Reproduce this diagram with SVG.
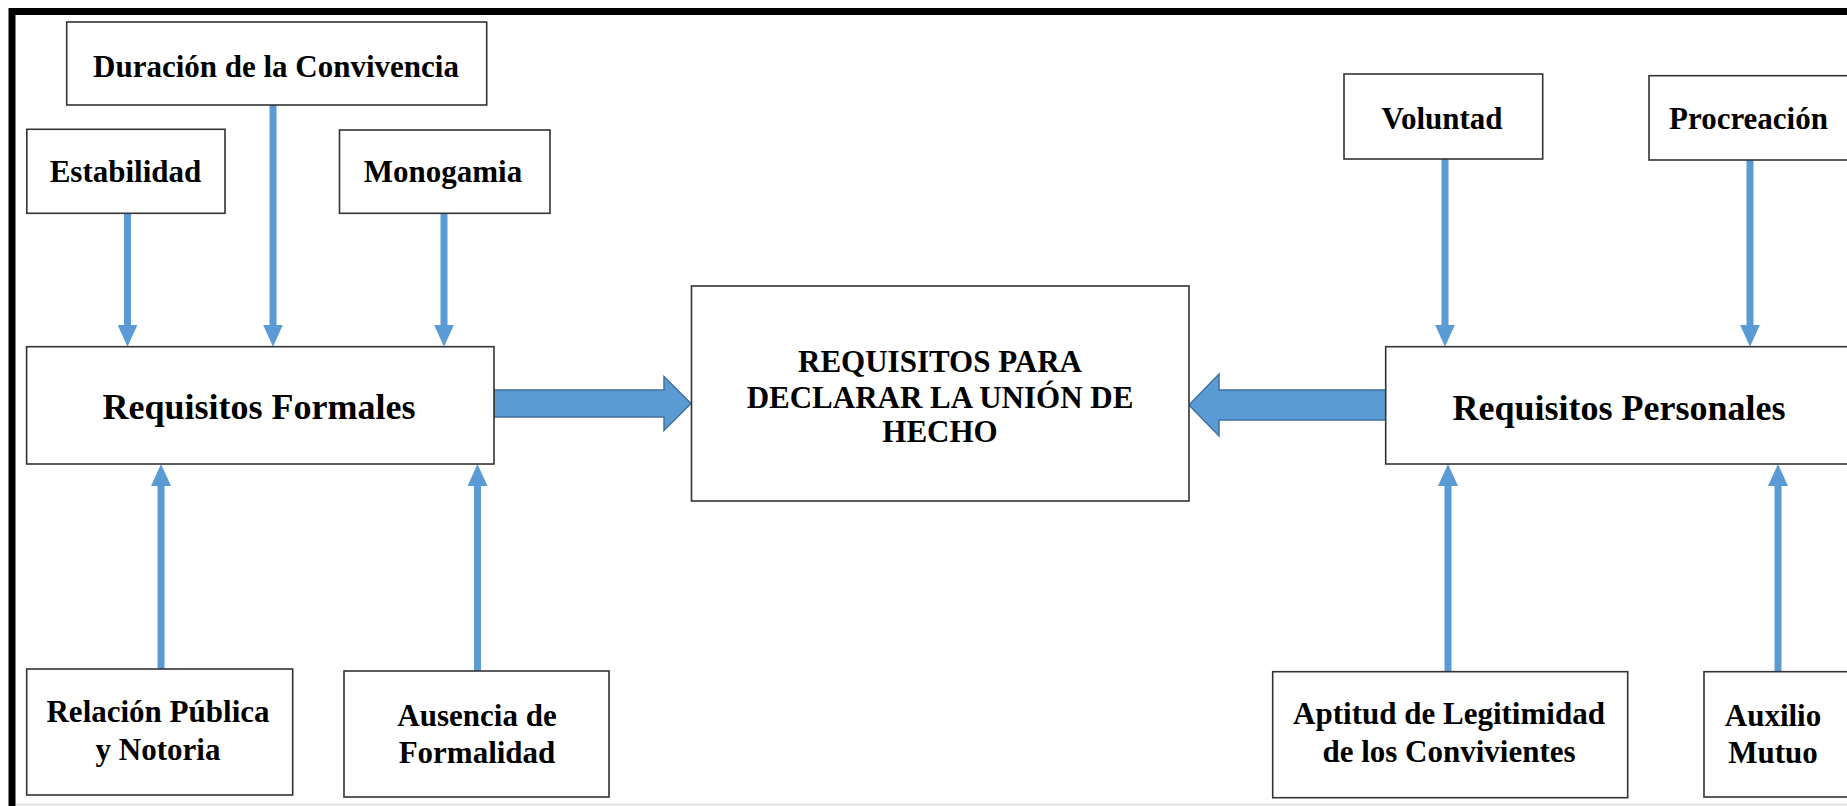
<svg xmlns="http://www.w3.org/2000/svg" width="1847" height="806" viewBox="0 0 1847 806">
<style>
.box{fill:#fff;stroke:#333;stroke-width:1.6}
.t{font-family:"Liberation Serif","Times New Roman",serif;font-weight:bold;fill:#000;text-anchor:middle}
.s{font-size:31px}
.b{font-size:36px}
.c{font-size:31px}
.ln{stroke:#5B9BD5;stroke-width:7;fill:none}
.blk{fill:#5B9BD5;stroke:#41719C;stroke-width:1.5}
</style>
<defs>
<marker id="ah" viewBox="0 -10 22 20" refX="1" refY="0" markerWidth="22" markerHeight="20" markerUnits="userSpaceOnUse" orient="auto">
<path d="M0,-10 L22,0 L0,10 z" fill="#5B9BD5"/>
</marker>
</defs>
<rect width="1847" height="806" fill="#fff"/>
<line x1="15" y1="804.5" x2="1847" y2="804.5" stroke="#e2e2e2" stroke-width="2"/>
<path d="M12,806 L12,11.5 L1847,11.5" fill="none" stroke="#000" stroke-width="7"/>

<g id="connectors">
<line class="ln" x1="127.5" y1="213" x2="127.5" y2="325.7" marker-end="url(#ah)"/>
<line class="ln" x1="273" y1="105" x2="273" y2="325.7" marker-end="url(#ah)"/>
<line class="ln" x1="444" y1="213" x2="444" y2="325.7" marker-end="url(#ah)"/>
<line class="ln" x1="1445" y1="159" x2="1445" y2="325.7" marker-end="url(#ah)"/>
<line class="ln" x1="1750" y1="160" x2="1750" y2="325.7" marker-end="url(#ah)"/>
<line class="ln" x1="161" y1="669" x2="161" y2="485" marker-end="url(#ah)"/>
<line class="ln" x1="477.5" y1="671" x2="477.5" y2="485" marker-end="url(#ah)"/>
<line class="ln" x1="1448" y1="671.7" x2="1448" y2="485" marker-end="url(#ah)"/>
<line class="ln" x1="1778" y1="671.7" x2="1778" y2="485" marker-end="url(#ah)"/>
<path class="blk" d="M494,390 L664,390 L664,376.5 L691,403.5 L664,430.5 L664,417 L494,417 z"/>
<path class="blk" d="M1386,390 L1219,390 L1219,374 L1189,405 L1219,436 L1219,420 L1386,420 z"/>
</g>

<g id="duracion"><rect class="box" x="66.7" y="22" width="420" height="83"/><text class="t s" x="276" y="77">Duración de la Convivencia</text></g>
<g id="estabilidad"><rect class="box" x="26.8" y="129.3" width="198.2" height="84"/><text class="t s" x="125.5" y="182">Estabilidad</text></g>
<g id="monogamia"><rect class="box" x="339.5" y="130" width="210.5" height="83.3"/><text class="t s" x="443" y="182">Monogamia</text></g>
<g id="formales"><rect class="box" x="26.6" y="346.7" width="467.4" height="117.3"/><text class="t b" x="259" y="419">Requisitos Formales</text></g>
<g id="central"><rect class="box" x="691.5" y="286" width="497.5" height="215"/><text class="t c" x="940" y="372">REQUISITOS PARA</text><text class="t c" x="940" y="408">DECLARAR LA UNIÓN DE</text><text class="t c" x="940" y="442">HECHO</text></g>
<g id="personales"><rect class="box" x="1385.7" y="346.7" width="480" height="117.3"/><text class="t b" x="1619" y="420">Requisitos Personales</text></g>
<g id="voluntad"><rect class="box" x="1344" y="74" width="198.7" height="85"/><text class="t s" x="1442" y="128.5">Voluntad</text></g>
<g id="procreacion"><rect class="box" x="1649" y="75.7" width="220" height="84.3"/><text class="t s" x="1669" y="129.3" style="text-anchor:start">Procreación</text></g>
<g id="relacion"><rect class="box" x="26.7" y="669" width="266" height="126"/><text class="t s" x="158" y="722">Relación Pública</text><text class="t s" x="158" y="760">y Notoria</text></g>
<g id="ausencia"><rect class="box" x="344" y="671" width="265" height="126"/><text class="t s" x="477" y="726">Ausencia de</text><text class="t s" x="477" y="763">Formalidad</text></g>
<g id="aptitud"><rect class="box" x="1272.7" y="671.7" width="355" height="126"/><text class="t s" x="1449" y="724">Aptitud de Legitimidad</text><text class="t s" x="1449" y="762">de los Convivientes</text></g>
<g id="auxilio"><rect class="box" x="1704" y="671.7" width="200" height="125.3"/><text class="t s" x="1773" y="726">Auxilio</text><text class="t s" x="1773" y="763">Mutuo</text></g>
</svg>
